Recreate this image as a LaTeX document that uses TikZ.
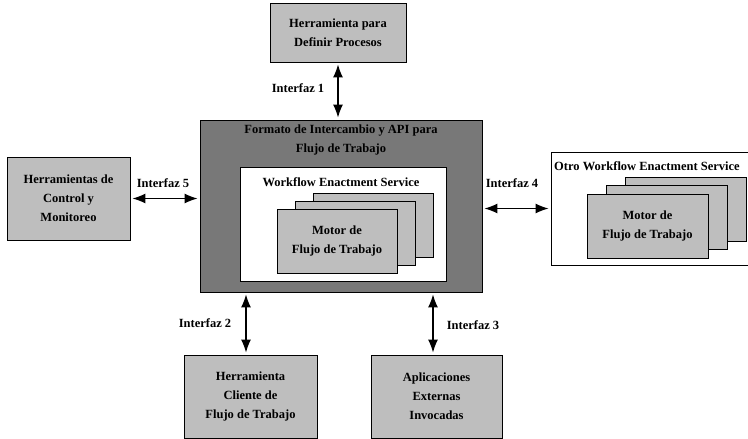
\documentclass[tikz,border=0pt]{standalone}
\usepackage{fontspec}
\setmainfont{Liberation Serif}
\usetikzlibrary{arrows.meta}
\definecolor{claro}{HTML}{BEBEBE}
\definecolor{oscuro}{HTML}{787878}
\begin{document}
\begin{tikzpicture}[x=1pt,y=-1pt,
    every node/.style={font=\fontsize{12.5}{19}\selectfont\bfseries,align=center,inner sep=0pt},
    caja/.style={draw,fill=claro,line width=0.8pt},
    flecha/.style={{Latex[length=13pt,width=10pt]}-{Latex[length=13pt,width=10pt]},line width=1.3pt,shorten <=2pt,shorten >=2pt}]

    \useasboundingbox (0,0) rectangle (748,439);

    %motor central
    \node[draw,fill=oscuro,line width=0.8pt,minimum width=282,minimum height=172] (formato) at (341,206) {};
    \node[anchor=north] (formatotxt) at (341,125) {Formato de Intercambio y API para\\Flujo de Trabajo};
    \node[draw,fill=white,line width=0.8pt,minimum width=206,minimum height=114] (wes) at (343,224) {};
    \node (westxt) at (341,182) {Workflow Enactment Service};
    \foreach \dx/\dy in {36/-16,18/-8}
        \node[caja,minimum width=120,minimum height=64] at (337+\dx,241+\dy) {};
    \node[caja,minimum width=120,minimum height=64] (motor) at (337,241) {Motor de\\Flujo de Trabajo};

    %otro servicio
    \node[draw,fill=white,line width=0.8pt,minimum width=197,minimum height=113] (otro) at (649.5,208.5) {};
    \node[anchor=west] (otrotxt) at (554,166) {Otro Workflow Enactment Service};
    \foreach \dx/\dy in {38/-17,19/-8.5}
        \node[caja,minimum width=121,minimum height=64] at (647.5+\dx,226+\dy) {};
    \node[caja,minimum width=121,minimum height=64] (otromotor) at (647.5,226) {Motor de\\Flujo de Trabajo};

    %cajas externas
    \node[caja,minimum width=136,minimum height=59] (definir) at (338,32.5) {Herramienta para\\Definir Procesos};
    \node[caja,minimum width=123,minimum height=83] (control) at (68.5,198.5) {Herramientas de\\Control y\\Monitoreo};
    \node[caja,minimum width=133,minimum height=83] (cliente) at (250.5,396.5) {Herramienta\\Cliente de\\Flujo de Trabajo};
    \node[caja,minimum width=131,minimum height=83] (invocadas) at (436.5,396.5) {Aplicaciones\\Externas\\Invocadas};

    %interfaces
    \draw[flecha] (definir.south) -- (definir.south |- formato.north);
    \draw[flecha] (control.east) -- (control.east -| formato.west);
    \draw[flecha] ([xshift=-4.5pt]cliente.north) -- ([xshift=-4.5pt]cliente.north |- formato.south);
    \draw[flecha] ([xshift=-3.5pt]invocadas.north) -- ([xshift=-3.5pt]invocadas.north |- formato.south);
    \draw[flecha] (otro.west) -- (otro.west -| formato.east);

    \node (i1) at (298,88) {Interfaz 1};
    \node (i2) at (205,323) {Interfaz 2};
    \node (i3) at (473,325) {Interfaz 3};
    \node (i4) at (512,183) {Interfaz 4};
    \node (i5) at (163,183) {Interfaz 5};

\end{tikzpicture}
\end{document}
